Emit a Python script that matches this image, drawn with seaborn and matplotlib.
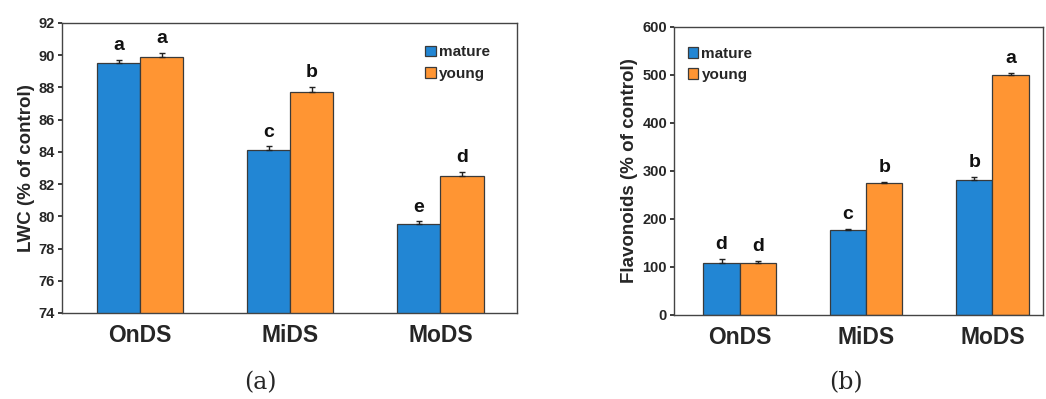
import numpy as np
import pandas as pd
import matplotlib
matplotlib.use("Agg")
import matplotlib.pyplot as plt
import seaborn as sns

# data
stages = ["OnDS", "MiDS", "MoDS"]
leaf_types = ["mature", "young"]

lwc_mature = [89.5, 84.1, 79.5]
lwc_young = [89.9, 87.7, 82.5]
lwc_mature_err = [0.2, 0.25, 0.2]
lwc_young_err = [0.25, 0.35, 0.25]
lwc_letters_mature = ["a", "c", "e"]
lwc_letters_young = ["a", "b", "d"]

flav_mature = [108, 178, 282]
flav_young = [108, 275, 500]
flav_mature_err = [9, 2, 5]
flav_young_err = [4, 2, 5]
flav_letters_mature = ["d", "c", "b"]
flav_letters_young = ["d", "b", "a"]

colors = ["#2286D4", "#FF9533"]

sns.set_theme(style="white")
plt.rcParams["font.family"] = ["Liberation Sans", "DejaVu Sans"]
plt.rcParams["font.weight"] = "bold"


def make_df(mature, young):
    return pd.DataFrame({
        "stage": stages * 2,
        "leaf": ["mature"] * 3 + ["young"] * 3,
        "value": list(mature) + list(young),
    })


def draw_panel(ax, mature, young, m_err, y_err, m_let, y_let, ylim, yticks,
               ylabel, legend_loc, letter_pad, xlim):
    df = make_df(mature, young)
    sns.barplot(data=df, x="stage", y="value", hue="leaf", hue_order=leaf_types,
                palette=colors, saturation=1, width=0.574, edgecolor="#3a3a3a",
                linewidth=0.9, errorbar=None, ax=ax, legend=True)
    bars = [p for p in ax.patches if p.get_height() != 0][:6]
    vals = list(mature) + list(young)
    errs = list(m_err) + list(y_err)
    lets = list(m_let) + list(y_let)
    for p, v, e, t in zip(bars, vals, errs, lets):
        xc = p.get_x() + p.get_width() / 2
        ax.errorbar(xc, v, yerr=[[0], [e]], fmt="none", ecolor="#222222",
                    elinewidth=1.0, capsize=2.5, capthick=1.0)
        ax.text(xc, v + e + letter_pad, t, ha="center", va="bottom",
                fontsize=14, fontweight="bold", color="#111111")
    ax.set_ylim(*ylim)
    ax.set_yticks(yticks)
    ax.set_xlim(*xlim)
    ax.set_xlabel("")
    ax.set_ylabel(ylabel, fontsize=13.5, fontweight="bold", labelpad=3)
    ax.tick_params(axis="x", labelsize=16.5, length=0, pad=8)
    ax.tick_params(axis="y", labelsize=10.5, direction="out", length=3, pad=2,
                   left=True)
    for lab in ax.get_xticklabels() + ax.get_yticklabels():
        lab.set_fontweight("bold")
    for s in ax.spines.values():
        s.set_color("#444444")
        s.set_linewidth(1.0)
    leg = ax.legend(loc=legend_loc, frameon=False, fontsize=11,
                    handlelength=0.7, handleheight=0.7, handletextpad=0.2,
                    labelspacing=0.5)
    for t in leg.get_texts():
        t.set_fontweight("bold")


fig = plt.figure(figsize=(10.46, 3.99), dpi=100)
ax1 = fig.add_axes([62 / 1046, 1 - 313 / 399, 455 / 1046, 290 / 399])
ax2 = fig.add_axes([674 / 1046, 1 - 315 / 399, 369 / 1046, 288 / 399])

draw_panel(ax1, lwc_mature, lwc_young, lwc_mature_err, lwc_young_err,
           lwc_letters_mature, lwc_letters_young, (74, 92),
           np.arange(74, 93, 2), "LWC (% of control)", "upper right", 0.35,
           (-0.52, 2.51))
ax1.legend_.set_bbox_to_anchor((0.97, 0.97))

draw_panel(ax2, flav_mature, flav_young, flav_mature_err, flav_young_err,
           flav_letters_mature, flav_letters_young, (0, 600),
           np.arange(0, 601, 100), "Flavonoids (% of control)", "upper left",
           12, (-0.52, 2.40))
ax2.legend_.set_bbox_to_anchor((0.0, 0.98))

fig.text(260 / 1046, 1 - 383 / 399, "(a)", ha="center", va="center",
         fontsize=17, family="DejaVu Serif", fontweight="normal")
fig.text(846 / 1046, 1 - 383 / 399, "(b)", ha="center", va="center",
         fontsize=17, family="DejaVu Serif", fontweight="normal")

fig.savefig("out.png", dpi=100)
